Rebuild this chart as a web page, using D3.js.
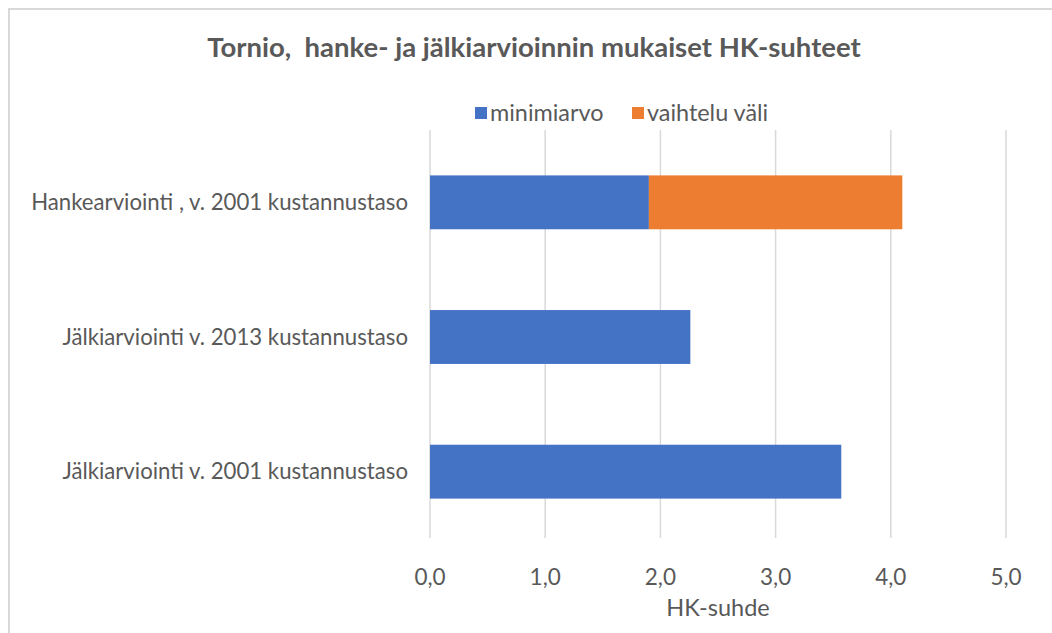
<!DOCTYPE html>
<html>
<head>
<meta charset="utf-8">
<script src="https://cdn.jsdelivr.net/npm/d3@7"></script>
<style>
  body { margin: 0; background: #fff; }
  text { font-family: Lato, "Open Sans", sans-serif; fill: #595959; }
</style>
</head>
<body>
<svg id="kuva"></svg>
<script>
// luokat ja arvot luettu kuvasta
const luokat = ["Hankearviointi , v. 2001 kustannustaso",
                "Jälkiarviointi v. 2013 kustannustaso",
                "Jälkiarviointi v. 2001 kustannustaso"]
const minimiarvo = [1.9, 2.26, 3.57]
const vaihteluVali = [2.2, 0, 0]
const sarjat = ["minimiarvo", "vaihtelu väli"]
const varit = ["#4472C4", "#ED7D31"]
const tikit = [0, 1, 2, 3, 4, 5]

const leveys = 1052, korkeus = 633

const svg = d3.select("#kuva")
  .attr("width", leveys)
  .attr("height", korkeus)

// kaavion reunaviiva (jatkuu oikealta ja alhaalta kuvan ulkopuolelle)
svg.append("rect")
  .attr("x", 9).attr("y", 9)
  .attr("width", leveys + 20).attr("height", korkeus + 20)
  .style("fill", "none")
  .style("stroke", "#d9d9d9")
  .style("stroke-width", 2)

const x = d3.scaleLinear().domain([0, 5]).range([430, 1006])
const y = d3.scaleBand().domain(luokat).range([135, 539]).paddingInner(0.6).paddingOuter(0.3)

// pystysuorat apuviivat
svg.append("g")
  .selectAll("line")
  .data(tikit)
  .join("line")
  .attr("x1", d => x(d)).attr("x2", d => x(d))
  .attr("y1", 130).attr("y2", 538)
  .style("stroke", "#d9d9d9")
  .style("stroke-width", 1.5)

// pinotut palkit
const taulu = luokat.map((l, i) => ({luokka: l, "minimiarvo": minimiarvo[i], "vaihtelu väli": vaihteluVali[i]}))
const pino = d3.stack().keys(sarjat)(taulu)

svg.append("g")
  .selectAll("g")
  .data(pino)
  .join("g")
  .style("fill", (d, i) => varit[i])
  .selectAll("rect")
  .data(d => d)
  .join("rect")
  .attr("x", d => x(d[0]))
  .attr("y", d => y(d.data.luokka))
  .attr("width", d => x(d[1]) - x(d[0]))
  .attr("height", y.bandwidth())

// luokkien nimet
svg.append("g")
  .selectAll("text")
  .data(luokat)
  .join("text")
  .attr("x", 408)
  .attr("y", d => y(d) + y.bandwidth() / 2)
  .attr("dy", "0.35em")
  .attr("text-anchor", "end")
  .style("font-size", "22.2px")
  .text(d => d)

// x-akselin tikit
const muoto = d3.format(".1f")
svg.append("g")
  .selectAll("text")
  .data(tikit)
  .join("text")
  .attr("x", d => x(d))
  .attr("y", 585)
  .attr("text-anchor", "middle")
  .style("font-size", "22.5px")
  .text(d => muoto(d).replace(".", ","))

svg.append("text")
  .attr("x", 718).attr("y", 616)
  .attr("text-anchor", "middle")
  .style("font-size", "23.5px")
  .text("HK-suhde")

// otsikko
svg.append("text")
  .attr("x", 534).attr("y", 57)
  .attr("text-anchor", "middle")
  .style("font-size", "27.5px")
  .style("font-weight", "bold")
  .attr("xml:space", "preserve")
  .text("Tornio,  hanke- ja jälkiarvioinnin mukaiset HK-suhteet")

// selite
const selite = svg.append("g")
const seliteX = [475, 632]
sarjat.forEach((s, i) => {
  selite.append("rect")
    .attr("x", seliteX[i]).attr("y", 107)
    .attr("width", 12).attr("height", 12)
    .style("fill", varit[i])
  selite.append("text")
    .attr("x", seliteX[i] + 15).attr("y", 121)
    .style("font-size", "23.4px")
    .text(s)
})
</script>
</body>
</html>
